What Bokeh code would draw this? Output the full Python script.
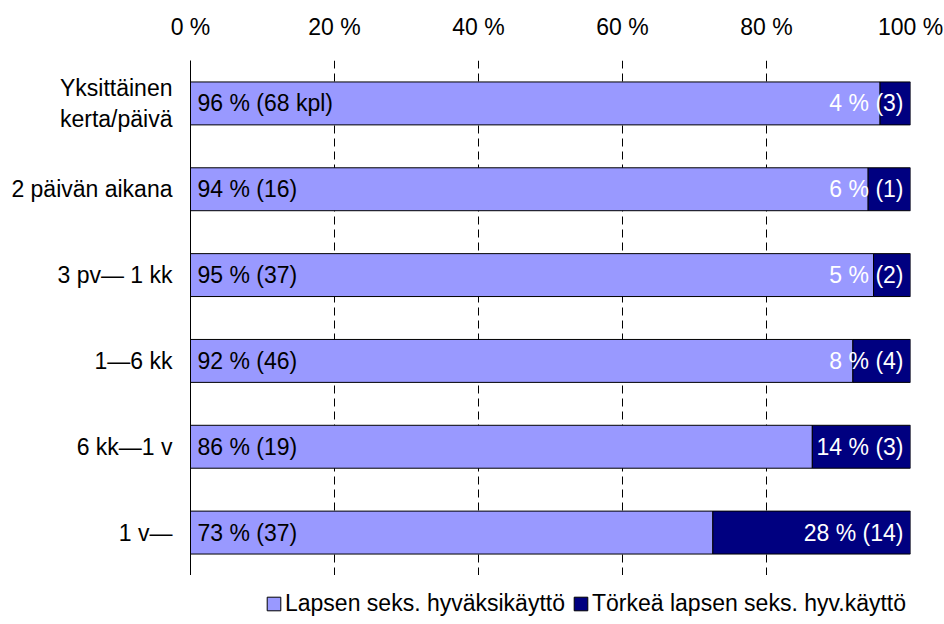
from bokeh.plotting import figure
from bokeh.layouts import column
from bokeh.models import (FactorRange, ColumnDataSource, FixedTicker, PrintfTickFormatter,
                          Legend, LegendItem, Range1d)
from bokeh.core.properties import value
from bokeh.embed import file_html
from bokeh.resources import INLINE

categories = ["Yksittäinen\nkerta/päivä", "2 päivän aikana", "3 pv\u2014 1 kk",
              "1\u20146 kk", "6 kk\u20141 v", "1 v\u2014"]
count_basic = [68, 16, 37, 46, 19, 37]
count_severe = [3, 1, 2, 4, 3, 14]
label_basic = ["96 % (68 kpl)", "94 % (16)", "95 % (37)", "92 % (46)", "86 % (19)", "73 % (37)"]
label_severe = ["4 % (3)", "6 % (1)", "5 % (2)", "8 % (4)", "14 % (3)", "28 % (14)"]
series_names = ["Lapsen seks. hyväksikäyttö", "Törkeä lapsen seks. hyv.käyttö"]
x_ticks = [0, 20, 40, 60, 80, 100]

FONT = "Liberation Sans"
FS = "23px"
LIGHT = "#9999FF"
DARK = "#000080"

totals = [a + b for a, b in zip(count_basic, count_severe)]
share_basic = [100.0 * a / t for a, t in zip(count_basic, totals)]

src = ColumnDataSource(dict(
    cat=categories,
    zero=[0] * len(categories),
    mid=share_basic,
    full=[100] * len(categories),
    lab_b=label_basic,
    lab_s=label_severe,
))

p = figure(width=944, height=575, output_backend="svg", toolbar_location=None,
           y_range=FactorRange(factors=list(reversed(categories)), range_padding=0),
           x_range=Range1d(0, 100), x_axis_location="above",
           min_border_left=190, min_border_right=34, min_border_top=60, min_border_bottom=0)
p.outline_line_color = None
p.background_fill_color = "white"

bar_style = dict(height=0.5, line_color="black", line_width=1)
r1 = p.hbar(y="cat", left="zero", right="mid", source=src, fill_color=LIGHT, **bar_style)
r2 = p.hbar(y="cat", left="mid", right="full", source=src, fill_color=DARK, **bar_style)

p.text(x="zero", y="cat", text="lab_b", source=src, x_offset=7,
       text_align="left", text_baseline="middle", text_color="black",
       text_font=value(FONT), text_font_size=value(FS))
p.text(x="full", y="cat", text="lab_s", source=src, x_offset=-7,
       text_align="right", text_baseline="middle", text_color="white",
       text_font=value(FONT), text_font_size=value(FS))

xa = p.xaxis[0]
xa.ticker = FixedTicker(ticks=x_ticks)
xa.formatter = PrintfTickFormatter(format="%d %%")
xa.axis_line_color = None
xa.major_tick_line_color = None
xa.minor_tick_line_color = None
xa.major_label_standoff = 15
xa.major_label_text_font = FONT
xa.major_label_text_font_size = FS
xa.major_label_text_color = "black"

ya = p.yaxis[0]
ya.axis_line_color = "black"
ya.axis_line_width = 1
ya.major_tick_line_color = None
ya.minor_tick_line_color = None
ya.major_label_standoff = 12
ya.major_label_text_font = FONT
ya.major_label_text_font_size = FS
ya.major_label_text_color = "black"

p.ygrid.grid_line_color = None
p.xgrid.ticker = FixedTicker(ticks=x_ticks[1:])
p.xgrid.grid_line_color = "black"
p.xgrid.grid_line_dash = "8 5"
p.xgrid.grid_line_width = 1

# legend strip below the chart (its sample bars fall outside its visible range)
q = figure(width=944, height=49, output_backend="svg", toolbar_location=None,
           x_axis_type=None, y_axis_type=None, min_border=0,
           x_range=Range1d(0, 100), y_range=Range1d(1, 2))
q.outline_line_color = None
q.xgrid.grid_line_color = None
q.ygrid.grid_line_color = None
l1 = q.hbar(y="zero", left="zero", right="mid", source=src, fill_color=LIGHT, **bar_style)
l2 = q.hbar(y="zero", left="mid", right="full", source=src, fill_color=DARK, **bar_style)

legend = Legend(items=[LegendItem(label=series_names[0], renderers=[l1]),
                       LegendItem(label=series_names[1], renderers=[l2])],
                location=(75, 7), orientation="horizontal",
                glyph_width=17, glyph_height=17, label_standoff=3, spacing=7,
                padding=0, margin=0, border_line_color=None, background_fill_alpha=0,
                label_text_font=FONT, label_text_font_size=FS, label_text_color="black")
q.add_layout(legend, "center")

layout = column(p, q, spacing=0)
open("out.html", "w").write(file_html(layout, INLINE))
